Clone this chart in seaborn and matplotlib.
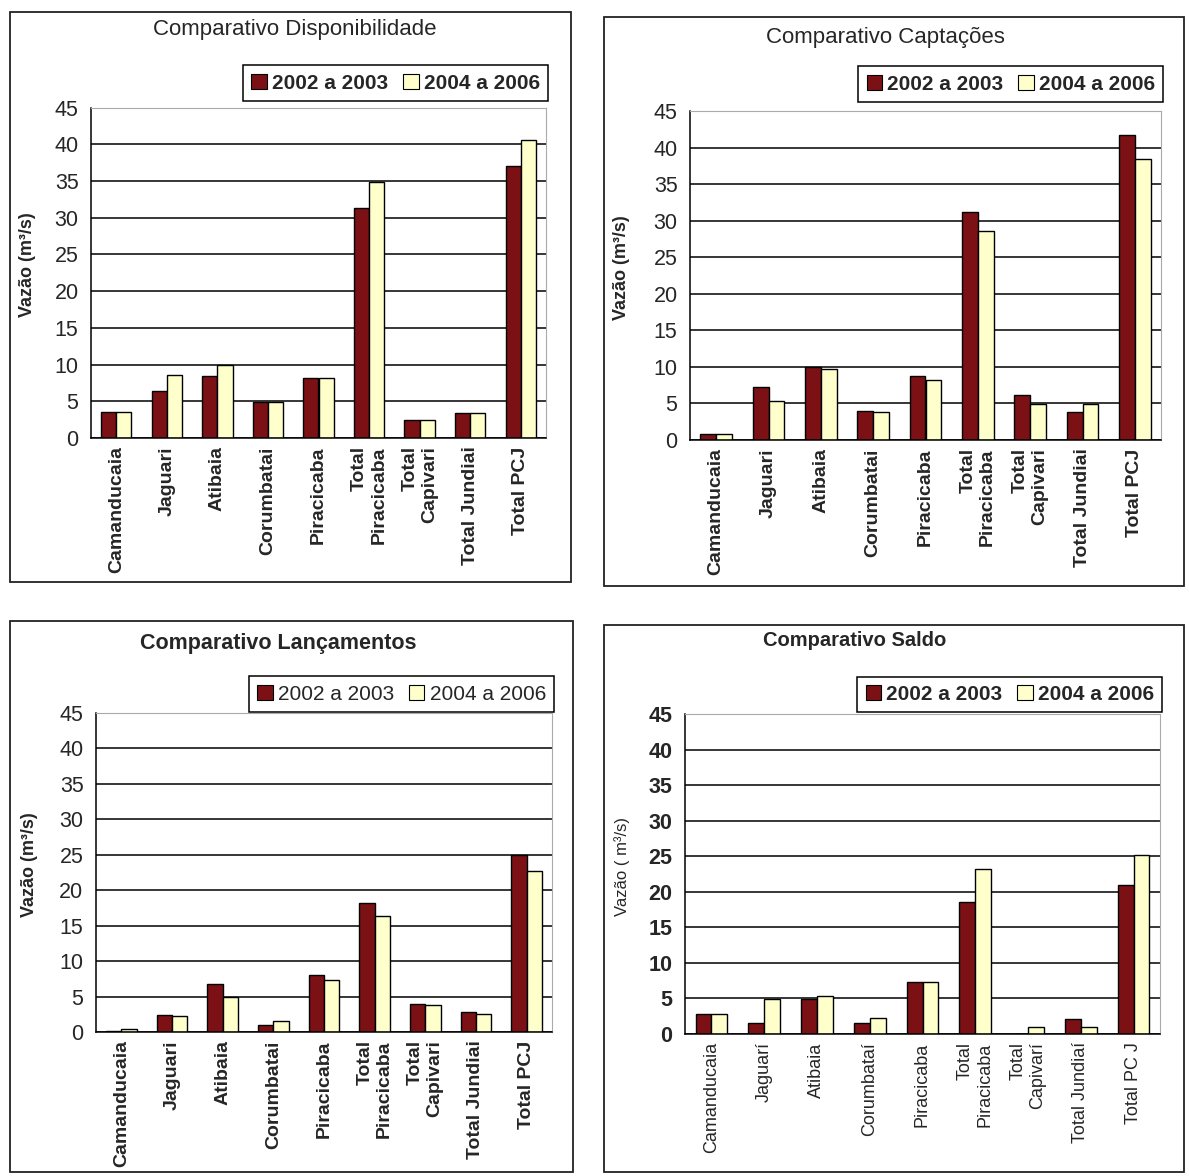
import pandas as pd
import matplotlib
matplotlib.use('Agg')
import matplotlib.pyplot as plt
import seaborn as sns
from matplotlib.patches import Patch, Rectangle

categorias = ['Camanducaia', 'Jaguari', 'Atibaia', 'Corumbatai', 'Piracicaba',
              'Total\nPiracicaba', 'Total\nCapivari', 'Total Jundiai', 'Total PCJ']
categorias_saldo = ['Camanducaia', 'Jaguarí', 'Atibaia', 'Corumbataí', 'Piracicaba',
                    'Total\nPiracicaba', 'Total\nCapivarí', 'Total Jundiaí', 'Total PC J']
periodos = ['2002 a 2003', '2004 a 2006']

disp_0203 = [3.5, 6.4, 8.4, 4.9, 8.2, 31.3, 2.4, 3.4, 37.1]
disp_0406 = [3.5, 8.6, 9.9, 4.9, 8.2, 34.8, 2.4, 3.4, 40.6]
capt_0203 = [0.8, 7.3, 10.0, 4.0, 8.7, 31.2, 6.2, 3.8, 41.7]
capt_0406 = [0.8, 5.4, 9.7, 3.8, 8.2, 28.6, 4.9, 4.9, 38.4]
lanc_0203 = [0.2, 2.4, 6.8, 1.0, 8.1, 18.2, 4.0, 2.8, 24.9]
lanc_0406 = [0.4, 2.2, 4.9, 1.6, 7.3, 16.4, 3.8, 2.6, 22.7]
saldo_0203 = [2.8, 1.5, 4.9, 1.5, 7.3, 18.5, 0.0, 2.1, 20.9]
saldo_0406 = [2.8, 4.9, 5.3, 2.3, 7.3, 23.2, 1.0, 1.0, 25.2]

cores = ['#7B1114', '#FFFFCC']

sns.set_style('white')
plt.rcParams['font.family'] = ['Liberation Sans', 'DejaVu Sans']
FAM = ['Liberation Sans', 'DejaVu Sans']

W, H = 1189, 1176
fig = plt.figure(figsize=(W / 100, H / 100), dpi=100)


def fx(x):
    return x / W


def fy(y):
    return 1 - y / H


def moldura(x0, y0, x1, y1):
    fig.patches.append(Rectangle((fx(x0), fy(y1)), fx(x1 - x0), (y1 - y0) / H,
                                 transform=fig.transFigure, fill=False,
                                 edgecolor='#222222', linewidth=1.3))


paineis = [
    dict(titulo='Comparativo Disponibilidade', v1=disp_0203, v2=disp_0406, cats=categorias,
         box=(10, 12, 571, 582), ax=(91, 107.6, 546, 438), tit=(295, 30), ylab_x=28,
         leg_gap=0.02, tbold=False, tsize=16, xbold=True, ybold=False, lbold=True, ylbold=True),
    dict(titulo='Comparativo Captações', v1=capt_0203, v2=capt_0406, cats=categorias,
         box=(604, 17, 1184, 586), ax=(690, 111, 1161, 440), tit=(885, 38), ylab_x=622,
         leg_gap=0.027, tbold=False, tsize=16, xbold=True, ybold=False, lbold=True, ylbold=True),
    dict(titulo='Comparativo Lançamentos', v1=lanc_0203, v2=lanc_0406, cats=categorias,
         box=(10, 621, 573, 1172), ax=(96, 713, 552, 1032), tit=(278, 643), ylab_x=30,
         leg_gap=0.003, tbold=True, tsize=15.5, xbold=True, ybold=False, lbold=False, ylbold=True),
    dict(titulo='Comparativo Saldo', v1=saldo_0203, v2=saldo_0406, cats=categorias_saldo,
         box=(604, 625, 1184, 1172), ax=(685, 714, 1160, 1034), tit=(855, 641), ylab_x=622,
         leg_gap=0.005, tbold=True, tsize=14.5, xbold=False, ybold=True, lbold=True, ylbold=False),
]

for p in paineis:
    moldura(*p['box'])
    x0, y0, x1, y1 = p['ax']
    ax = fig.add_axes([fx(x0), fy(y1), fx(x1 - x0), (y1 - y0) / H])

    df = pd.DataFrame({
        'local': p['cats'] * 2,
        'vazao': p['v1'] + p['v2'],
        'periodo': [periodos[0]] * 9 + [periodos[1]] * 9,
    })
    sns.barplot(data=df, x='local', y='vazao', hue='periodo', order=p['cats'],
                hue_order=periodos, palette=cores, width=0.6, edgecolor='black',
                linewidth=1.0, saturation=1, legend=False, ax=ax)

    ax.set_xlim(-0.5, 8.5)
    ax.set_ylim(0, 45)
    ax.set_yticks(range(0, 50, 5))
    ax.yaxis.grid(True, color='black', linewidth=1.1)
    ax.set_axisbelow(True)
    ax.set_xlabel('')
    ax.set_ylabel('')

    for s in ['top', 'right']:
        ax.spines[s].set_color('#aaaaaa')
        ax.spines[s].set_linewidth(0.8)
    for s in ['left', 'bottom']:
        ax.spines[s].set_color('black')
        ax.spines[s].set_linewidth(1.1)

    ax.set_xticks([i - 0.5 for i in range(10)], minor=True)
    ax.tick_params(axis='x', which='major', length=0, pad=6)
    ax.tick_params(axis='x', which='minor', length=6, width=1.1, direction='out', color='black')
    ax.tick_params(axis='y', length=6, width=1.1, direction='out', color='black', pad=3)
    ax.set_xticks(range(9))
    ax.set_xticklabels(p['cats'], rotation=90, ha='center', va='top', multialignment='right',
                       fontsize=14 if p['xbold'] else 13,
                       fontweight='bold' if p['xbold'] else 'normal', family=FAM)
    for t in ax.get_yticklabels():
        t.set_fontsize(15.5)
        t.set_fontweight('bold' if p['ybold'] else 'normal')

    handles = [Patch(facecolor=cores[0], edgecolor='black', linewidth=0.8),
               Patch(facecolor=cores[1], edgecolor='black', linewidth=0.8)]
    leg = ax.legend(handles, periodos, loc='lower right', bbox_to_anchor=(1.005, 1 + p['leg_gap']),
                    ncol=2, frameon=True, fancybox=False, framealpha=1, edgecolor='black',
                    handlelength=0.75, handleheight=0.75, handletextpad=0.25,
                    columnspacing=0.7, borderpad=0.4, borderaxespad=0,
                    prop=dict(family=FAM, size=15, weight='bold' if p['lbold'] else 'normal'))
    leg.get_frame().set_linewidth(1.1)

    fig.text(fx(p['tit'][0]), fy(p['tit'][1]), p['titulo'], ha='center', va='center',
             fontsize=p['tsize'], fontweight='bold' if p['tbold'] else 'normal', family=FAM)
    ylab = 'Vazão (m³/s)' if p['ylbold'] else 'Vazão ( m³/s)'
    fig.text(fx(p['ylab_x']), fy((y0 + y1) / 2 - 8), ylab, rotation=90, ha='center', va='center',
             fontsize=13 if p['ylbold'] else 12,
             fontweight='bold' if p['ylbold'] else 'normal', family=FAM)

fig.savefig('out.png', dpi=100)
